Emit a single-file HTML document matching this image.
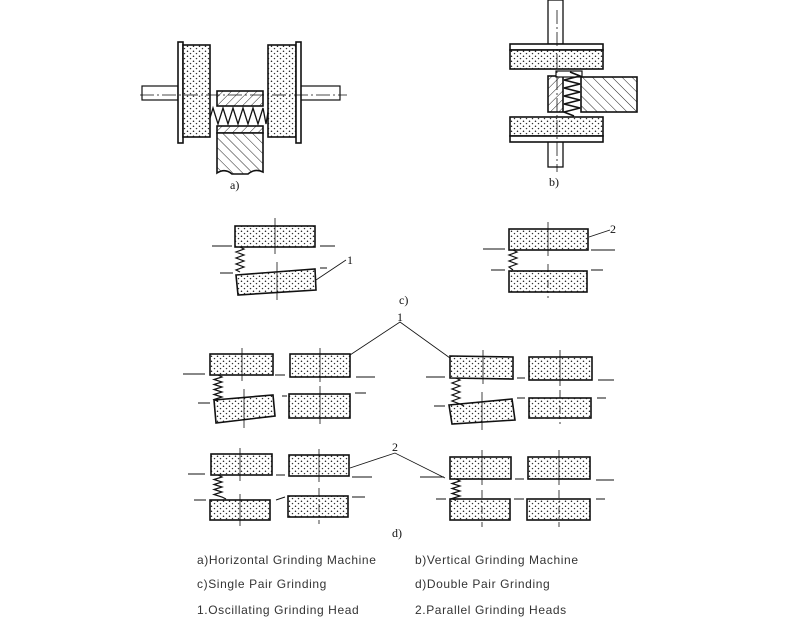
<!DOCTYPE html>
<html><head><meta charset="utf-8"><style>
html,body{margin:0;padding:0;background:#fff;}
svg{display:block}
.t{font-family:"Liberation Sans",sans-serif;font-size:12px;letter-spacing:0.6px;fill:#333}
.s{font-family:"Liberation Serif",serif;font-size:12px;fill:#111}
</style></head><body>
<svg width="800" height="630" viewBox="0 0 800 630" xmlns="http://www.w3.org/2000/svg">
<defs>
<pattern id="dots" width="6" height="5" patternUnits="userSpaceOnUse">
<rect width="6" height="5" fill="#fff"/>
<circle cx="1.5" cy="1.2" r="0.75" fill="#222"/><circle cx="4.5" cy="3.6" r="0.7" fill="#333"/>
</pattern>
<pattern id="hatch" width="6" height="6" patternUnits="userSpaceOnUse" patternTransform="rotate(45)">
<rect width="6" height="6" fill="#fff"/><line x1="0" y1="0" x2="0" y2="6" stroke="#222" stroke-width="1"/>
</pattern>
<pattern id="hatch2" width="7" height="7" patternUnits="userSpaceOnUse" patternTransform="rotate(-45)">
<rect width="7" height="7" fill="#fff"/><line x1="0" y1="0" x2="0" y2="7" stroke="#222" stroke-width="1"/>
</pattern>
</defs>
<g stroke="#111" stroke-width="1.6" fill="url(#dots)">
<rect x="142" y="86" width="36" height="14" fill="#fff" stroke-width="1.2"/>
<rect x="300" y="86" width="40" height="14" fill="#fff" stroke-width="1.2"/>
<rect x="178" y="42" width="5" height="101" fill="#fff"/>
<rect x="183" y="45" width="27" height="92"/>
<rect x="268" y="45" width="28" height="92"/>
<rect x="296" y="42" width="5" height="101" fill="#fff"/>
<rect x="217" y="91" width="46" height="15" fill="url(#hatch)"/>
<rect x="217" y="126" width="46" height="7" fill="url(#hatch)"/>
<path d="M217 133 H263 V172 Q255 168 248 174 H232 Q225 168 217 173 Z" fill="url(#hatch2)"/>
<path d="M210 118 L213 108 L218 124 L223 108 L228 124 L233 108 L238 124 L243 108 L248 124 L253 108 L258 124 L263 108 L266 124 L268 112" fill="none" stroke-width="1.3"/>
<line x1="140" y1="95" x2="347" y2="95" stroke-width="0.8" stroke-dasharray="14 3 2 3"/>
<rect x="548" y="0" width="15" height="44" fill="#fff" stroke-width="1.3"/>
<rect x="548" y="141" width="15" height="26" fill="#fff" stroke-width="1.3"/>
<rect x="510" y="44" width="93" height="6" fill="#fff"/>
<rect x="510" y="50" width="93" height="19"/>
<rect x="510" y="117" width="93" height="19"/>
<rect x="510" y="136" width="93" height="6" fill="#fff"/>
<rect x="548" y="76" width="15" height="36" fill="url(#hatch)"/>
<rect x="556" y="71" width="26" height="6" fill="#fff" stroke-width="1.2"/>
<rect x="581" y="77" width="56" height="35" fill="url(#hatch2)"/>
<path d="M570 72 L580 76 L564 80 L580 84 L564 88 L580 92 L564 96 L580 100 L564 104 L580 108 L564 112 L574 116" fill="none" stroke-width="1.6"/>
<line x1="557" y1="10" x2="557" y2="172" stroke-width="0.8" stroke-dasharray="14 3 2 3"/>
<rect x="235" y="226" width="80" height="21"/>
<polygon points="236,275 315,269 316,290 238,295"/>
<rect x="509" y="229" width="79" height="21"/>
<rect x="509" y="271" width="78" height="21"/>
<rect x="210" y="354" width="63" height="21"/>
<rect x="290" y="354" width="60" height="23"/>
<polygon points="214,400 273,395 275,416 216,423"/>
<rect x="289" y="394" width="61" height="24"/>
<polygon points="450,356 513,357 513,379 450,378"/>
<rect x="529" y="357" width="63" height="23"/>
<polygon points="449,405 512,399 515,420 452,424"/>
<rect x="529" y="398" width="62" height="20"/>
<rect x="211" y="454" width="61" height="21"/>
<rect x="289" y="455" width="60" height="21"/>
<rect x="210" y="500" width="60" height="20"/>
<rect x="288" y="496" width="60" height="21"/>
<rect x="450" y="457" width="61" height="22"/>
<rect x="528" y="457" width="62" height="22"/>
<rect x="450" y="499" width="60" height="21"/>
<rect x="527" y="499" width="63" height="21"/>
</g>
<g stroke="#111" stroke-width="1.2" fill="none">
<path d="M240 247 l4 2 l-8 3 l8 3 l-8 3 l8 3 l-8 3 l8 3 l-8 3 l4 2"/>
<path d="M513 250 l4 2 l-8 3 l8 3 l-8 3 l8 3 l-8 3 l4 3"/>
<path d="M218 375 l4 2 l-8 2.5 l8 2.5 l-8 2.5 l8 2.5 l-8 2.5 l8 2.5 l-8 2.5 l8 2.5 l-8 2.5 l4 2"/>
<path d="M456 378 l4 2 l-8 3 l8 3 l-8 3 l8 3 l-8 3 l8 3 l-8 3 l8 3 l4 2"/>
<path d="M218 475 l4 2 l-8 2.5 l8 2.5 l-8 2.5 l8 2.5 l-8 2.5 l8 2.5 l-8 2.5 l8 2.5 l4 2"/>
<path d="M456 479 l4 2 l-8 2.5 l8 2.5 l-8 2.5 l8 2.5 l-8 2.5 l8 2.5 l-8 2.5 l4 2"/>
</g>
<g stroke="#111" stroke-width="1">
<line x1="212" y1="246" x2="232" y2="246"/><line x1="320" y1="246" x2="335" y2="246"/>
<line x1="220" y1="273" x2="233" y2="273"/><line x1="320" y1="268" x2="327" y2="268"/>
<line x1="483" y1="249" x2="505" y2="249"/><line x1="591" y1="250" x2="615" y2="250"/>
<line x1="491" y1="270" x2="505" y2="270"/><line x1="591" y1="270" x2="603" y2="270"/>
<line x1="183" y1="374" x2="205" y2="374"/><line x1="275" y1="375" x2="285" y2="375"/><line x1="356" y1="377" x2="375" y2="377"/>
<line x1="198" y1="403" x2="210" y2="403"/><line x1="282" y1="396" x2="287" y2="396"/><line x1="355" y1="393" x2="366" y2="393"/>
<line x1="426" y1="377" x2="445" y2="377"/><line x1="517" y1="378" x2="525" y2="378"/><line x1="598" y1="380" x2="614" y2="380"/>
<line x1="434" y1="406" x2="445" y2="406"/><line x1="517" y1="398" x2="525" y2="398"/><line x1="597" y1="398" x2="606" y2="398"/>
<line x1="188" y1="474" x2="205" y2="474"/><line x1="276" y1="475" x2="285" y2="475"/><line x1="352" y1="477" x2="372" y2="477"/>
<line x1="194" y1="500" x2="206" y2="500"/><line x1="276" y1="500" x2="285" y2="497"/><line x1="352" y1="497" x2="365" y2="497"/>
<line x1="420" y1="477" x2="444" y2="477"/><line x1="515" y1="479" x2="524" y2="479"/><line x1="596" y1="480" x2="614" y2="480"/>
<line x1="436" y1="499" x2="446" y2="499"/><line x1="514" y1="499" x2="524" y2="499"/><line x1="596" y1="499" x2="605" y2="499"/>
</g>
<g stroke="#111" stroke-width="0.8">
<line x1="275" y1="218" x2="275" y2="254"/><line x1="277" y1="262" x2="277" y2="300"/>
<line x1="548" y1="222" x2="548" y2="256"/><line x1="548" y1="264" x2="548" y2="298" stroke-dasharray="8 3 2 3"/>
<line x1="242" y1="348" x2="242" y2="381"/><line x1="244" y1="389" x2="244" y2="428"/>
<line x1="320" y1="348" x2="320" y2="382"/><line x1="320" y1="386" x2="320" y2="424"/>
<line x1="483" y1="350" x2="483" y2="384"/><line x1="482" y1="392" x2="482" y2="430"/>
<line x1="560" y1="350" x2="560" y2="386"/><line x1="560" y1="390" x2="560" y2="424" stroke-dasharray="8 3 2 3"/>
<line x1="240" y1="448" x2="240" y2="481"/><line x1="240" y1="494" x2="240" y2="526"/>
<line x1="319" y1="449" x2="319" y2="482"/><line x1="319" y1="488" x2="319" y2="524" stroke-dasharray="8 3 2 3"/>
<line x1="482" y1="450" x2="482" y2="485"/><line x1="482" y1="490" x2="482" y2="527" stroke-dasharray="8 3 2 3"/>
<line x1="559" y1="450" x2="559" y2="485"/><line x1="559" y1="490" x2="559" y2="527" stroke-dasharray="8 3 2 3"/>
<polyline points="316,280 346,260" fill="none"/>
<polyline points="589,237 610,230" fill="none"/>
<polyline points="350,355 400,322 450,358" fill="none"/>
<polyline points="350,468 395,453 445,478" fill="none"/>
</g>
<text class="s" x="230" y="189">a)</text>
<text class="s" x="549" y="186">b)</text>
<text class="s" x="347" y="264">1</text>
<text class="s" x="610" y="233">2</text>
<text class="s" x="399" y="304" font-size="10">c)</text>
<text class="s" x="397" y="321">1</text>
<text class="s" x="392" y="451">2</text>
<text class="s" x="392" y="537" font-size="10">d)</text>
<text class="t" x="197" y="564">a)Horizontal Grinding Machine</text>
<text class="t" x="415" y="564">b)Vertical Grinding Machine</text>
<text class="t" x="197" y="588">c)Single Pair Grinding</text>
<text class="t" x="415" y="588">d)Double Pair Grinding</text>
<text class="t" x="197" y="614">1.Oscillating Grinding Head</text>
<text class="t" x="415" y="614">2.Parallel Grinding Heads</text>
</svg>
</body></html>
